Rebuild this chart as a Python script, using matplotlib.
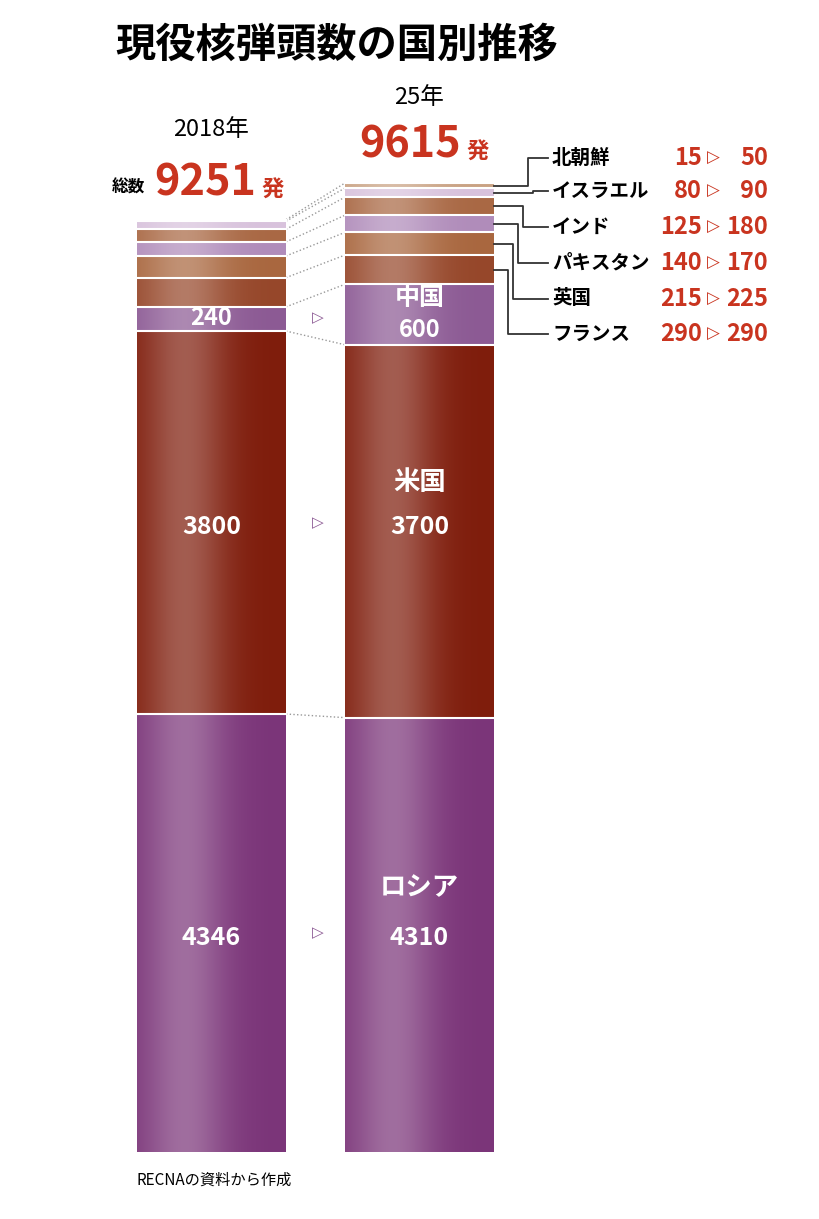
import matplotlib
matplotlib.use("Agg")
import matplotlib.pyplot as plt
import numpy as np

plt.rcParams['font.family'] = ['Noto Sans CJK JP', 'DejaVu Sans']

countries = ["ロシア", "米国", "中国", "フランス", "英国", "パキスタン", "インド", "イスラエル", "北朝鮮"]
v2018 = [4346, 3800, 240, 290, 215, 140, 125, 80, 15]
v2025 = [4310, 3700, 600, 290, 225, 170, 180, 90, 50]
colors = ["#7b3579", "#7f1d0c", "#8c5a94", "#96472a", "#a9673f", "#b08cba", "#a96844", "#d8c2dc", "#c9a283"]
years = ["2018年", "25年"]
totals = [9251, 9615]
RED = "#c9341f"

W, H = 820, 1219
fig = plt.figure(figsize=(8.2, 12.19), dpi=100)
bot_px, top_px = 1152, 183
ax = fig.add_axes([0, (H - bot_px) / H, 1, (bot_px - top_px) / H])
ax.axis('off')
ppu = (bot_px - top_px) / totals[1]
def pv(py):  # pixel y -> value
    return (bot_px - py) / ppu

xs = [137, 345]
bw = 149

t = np.linspace(0, 1, 200)
glow = 0.28 * np.exp(-((t - 0.32) / 0.28) ** 2)
def seg(x0, y0, h, col):
    c = np.array(matplotlib.colors.to_rgb(col))
    img = c[None, :] * (1 - glow[:, None]) + glow[:, None]
    ax.imshow(img[None, :, :], extent=[x0, x0 + bw, y0, y0 + h], aspect='auto', zorder=1)

cums = []
for x0, vals in zip(xs, [v2018, v2025]):
    y = 0
    c = [0]
    for v, col in zip(vals, colors):
        seg(x0, y, v, col)
        y += v
        c.append(y)
        ax.plot([x0, x0 + bw], [y, y], color='white', lw=1.5, zorder=2)
    cums.append(c)

for i in range(1, len(countries) + 1):
    ax.plot([xs[0] + bw, xs[1]], [cums[0][i], cums[1][i]], ls=':', color='#999999', lw=1, zorder=0)

for i in range(3):
    ax.text(318, (cums[0][i] + cums[0][i + 1]) / 2 if i < 2 else pv(318), "▷", color='#8c5a94',
            ha='center', va='center', fontsize=11, family=['DejaVu Sans'])

ax.set_ylim(0, totals[1])
ax.set_xlim(0, W)

wkw = dict(color='white', ha='center', va='center', fontweight='bold')
c0 = xs[0] + bw / 2; c1 = xs[1] + bw / 2
ax.text(c0, pv(938), str(v2018[0]), fontsize=18, **wkw)
ax.text(c0, pv(527), str(v2018[1]), fontsize=18, **wkw)
ax.text(c0, pv(318), str(v2018[2]), fontsize=17, **wkw)
ax.text(c1, pv(888), countries[0], fontsize=19, **wkw)
ax.text(c1, pv(938), str(v2025[0]), fontsize=18, **wkw)
ax.text(c1, pv(483), countries[1], fontsize=19, **wkw)
ax.text(c1, pv(527), str(v2025[1]), fontsize=18, **wkw)
ax.text(c1, pv(298), countries[2], fontsize=18, **wkw)
ax.text(c1, pv(330), str(v2025[2]), fontsize=17, **wkw)

fig.text(115 / W, 1 - 45 / H, "現役核弾頭数の国別推移", fontsize=29, fontweight='bold', va='center', ha='left')
fig.text(c0 / W, 1 - 130 / H, years[0], fontsize=17, ha='center', va='center')
fig.text(128 / W, 1 - 188 / H, "総数", fontsize=12, fontweight='bold', ha='center', va='center')
fig.text(205 / W, 1 - 182 / H, str(totals[0]), fontsize=31, fontweight='bold', color=RED, ha='center', va='center')
fig.text(273 / W, 1 - 190 / H, "発", fontsize=16, fontweight='bold', color=RED, ha='center', va='center')
fig.text(c1 / W, 1 - 97 / H, years[1], fontsize=17, ha='center', va='center')
fig.text(410 / W, 1 - 145 / H, str(totals[1]), fontsize=31, fontweight='bold', color=RED, ha='center', va='center')
fig.text(478 / W, 1 - 152 / H, "発", fontsize=16, fontweight='bold', color=RED, ha='center', va='center')
fig.text(137 / W, 1 - 1180 / H, "RECNAの資料から作成", fontsize=11, ha='left', va='center')

label_py = [158, 191, 227, 263, 299, 334]
order = [8, 7, 6, 5, 4, 3]
elbow = [528, 533, 523, 518, 513, 508]
for py, idx, ex in zip(label_py, order, elbow):
    sy = (cums[1][idx] + cums[1][idx + 1]) / 2
    ax.plot([xs[1] + bw, ex, ex, 548], [sy, sy, pv(py), pv(py)], color='#333333', lw=1.3, clip_on=False)
    ax.text(552, pv(py), countries[idx], fontsize=14, fontweight='bold', ha='left', va='center')
    ax.text(702, pv(py), str(v2018[idx]), fontsize=17, fontweight='bold', color=RED, ha='right', va='center')
    ax.text(713, pv(py), "▷", fontsize=12, color=RED, ha='center', va='center', family=['DejaVu Sans'])
    ax.text(768, pv(py), str(v2025[idx]), fontsize=17, fontweight='bold', color=RED, ha='right', va='center')

fig.savefig("out.png", dpi=100, facecolor='white')
